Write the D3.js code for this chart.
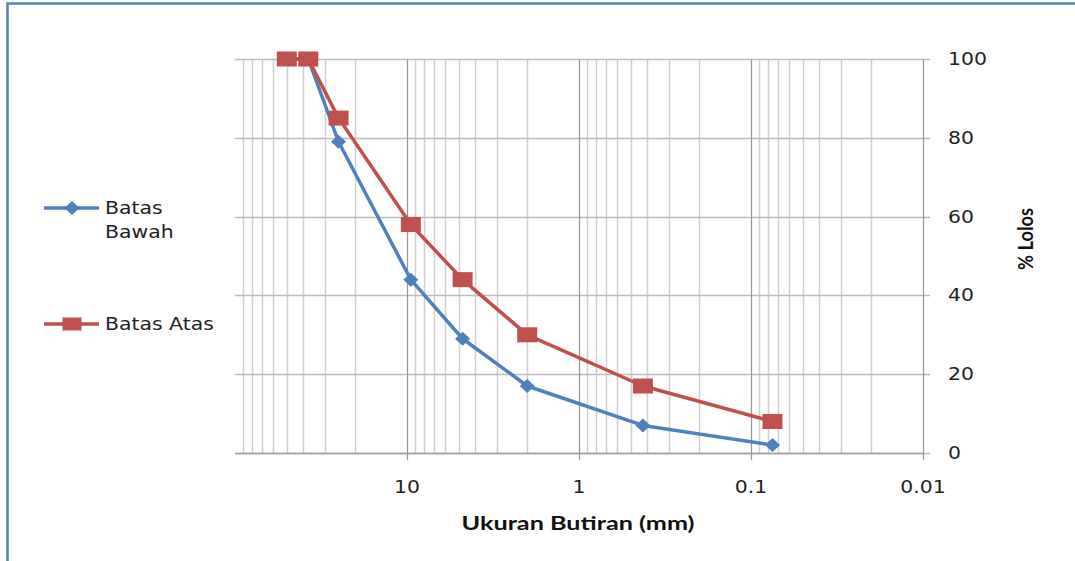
<!DOCTYPE html>
<html><head><meta charset="utf-8">
<script src="https://cdn.jsdelivr.net/npm/d3@7"></script>
<style>body{margin:0;background:#fff}svg{display:block}</style>
</head><body>
<svg id="c" width="1075" height="561"></svg>
<script>
const sizes = [50, 37.5, 25, 9.5, 4.75, 2.0, 0.425, 0.075];
const batasBawah = [100, 100, 79, 44, 29, 17, 7, 2];
const batasAtas = [100, 100, 85, 58, 44, 30, 17, 8];
const xTicks = [10, 1, 0.1, 0.01];
const xTickLabels = ["10", "1", "0.1", "0.01"];
const yTicks = [0, 20, 40, 60, 80, 100];
const seriesNames = ["Batas Bawah", "Batas Atas"];

const svg = d3.select("#c");
const x = d3.scaleLog().domain([100, 0.01]).range([235, 923]);
const y = d3.scaleLinear().domain([0, 100]).range([453, 59]);
const blue = "#4f81bd", red = "#c0504d";

// frame
svg.append("rect").attr("x", 7.5).attr("y", 3.5).attr("width", 1100).attr("height", 600)
  .attr("fill", "none").attr("stroke", "#4f81bd").attr("stroke-width", 2.5);

// minor vertical grid
const minor = [];
[10, 1, 0.1, 0.01].forEach(d => { for (let k = 2; k <= 9; k++) minor.push(k * d); });
svg.append("g").selectAll("line").data(minor).join("line")
  .attr("x1", d => Math.round(x(d)) + 0.5).attr("x2", d => Math.round(x(d)) + 0.5)
  .attr("y1", y(100)).attr("y2", y(0)).attr("stroke", "#cfcfcf").attr("stroke-width", 1.5);

// horizontal grid + right ticks
svg.append("g").selectAll("line").data(yTicks).join("line")
  .attr("x1", 235).attr("x2", 930)
  .attr("y1", d => Math.round(y(d)) + 0.5).attr("y2", d => Math.round(y(d)) + 0.5)
  .attr("stroke", "#bdbdbd").attr("stroke-width", 1.5);

// major vertical grid + ticks
svg.append("g").selectAll("line").data(xTicks).join("line")
  .attr("x1", d => Math.round(x(d)) + 0.5).attr("x2", d => Math.round(x(d)) + 0.5)
  .attr("y1", y(100)).attr("y2", y(0) + 7).attr("stroke", "#969696").attr("stroke-width", 1.2);

// bottom axis line
svg.append("line").attr("x1", 235).attr("x2", 923).attr("y1", Math.round(y(0)) + 0.5).attr("y2", Math.round(y(0)) + 0.5)
  .attr("stroke", "#a0a0a0").attr("stroke-width", 1.5);

const lbl = "'DejaVu Sans', Verdana, sans-serif";
// x tick labels
svg.append("g").selectAll("text").data(xTicks).join("text")
  .attr("transform", d => `translate(${x(d)},493) scale(1.2,1)`)
  .attr("text-anchor", "middle").attr("font-family", lbl).attr("font-size", 17).attr("fill", "#222")
  .text((d, i) => xTickLabels[i]);
// y tick labels
svg.append("g").selectAll("text").data(yTicks).join("text")
  .attr("transform", d => `translate(948,${y(d) + 6}) scale(1.2,1)`)
  .attr("font-family", lbl).attr("font-size", 17).attr("fill", "#222")
  .text(d => d);

// axis titles
svg.append("text").attr("x", 578).attr("y", 530).attr("text-anchor", "middle")
  .attr("font-family", "Lato, 'Open Sans', sans-serif").attr("font-weight", "bold").attr("font-size", 18)
  .attr("textLength", 233).attr("lengthAdjust", "spacingAndGlyphs").attr("fill", "#111")
  .text("Ukuran Butiran (mm)");
svg.append("text").attr("transform", "translate(1033,239) rotate(-90)").attr("text-anchor", "middle")
  .attr("font-family", "Lato, 'Open Sans', sans-serif").attr("font-weight", "bold").attr("font-size", 20)
  .attr("textLength", 62).attr("lengthAdjust", "spacingAndGlyphs").attr("fill", "#111")
  .text("% Lolos");

// series
const line = d3.line().x(d => x(d[0])).y(d => y(d[1]));
const dBawah = sizes.map((s, i) => [s, batasBawah[i]]);
const dAtas = sizes.map((s, i) => [s, batasAtas[i]]);

function diamond(g, cx, cy) {
  g.append("path").attr("d", `M${cx},${cy - 7}L${cx + 7.5},${cy}L${cx},${cy + 7}L${cx - 7.5},${cy}Z`).attr("fill", blue);
}
function square(g, cx, cy, w, h) {
  g.append("rect").attr("x", cx - w / 2).attr("y", cy - h / 2).attr("width", w).attr("height", h).attr("fill", red);
}

svg.append("path").datum(dBawah).attr("d", line).attr("fill", "none").attr("stroke", blue).attr("stroke-width", 3.5).attr("stroke-linejoin", "round");
const gB = svg.append("g");
dBawah.forEach(d => diamond(gB, x(d[0]), y(d[1])));

svg.append("path").datum(dAtas).attr("d", line).attr("fill", "none").attr("stroke", red).attr("stroke-width", 3.5).attr("stroke-linejoin", "round");
const gA = svg.append("g");
dAtas.forEach(d => square(gA, x(d[0]), y(d[1]), 20, 15));

// legend
const lg = svg.append("g");
lg.append("line").attr("x1", 44).attr("x2", 99).attr("y1", 208).attr("y2", 208).attr("stroke", blue).attr("stroke-width", 3.5);
diamond(lg, 72, 208);
lg.append("line").attr("x1", 44).attr("x2", 99).attr("y1", 324).attr("y2", 324).attr("stroke", red).attr("stroke-width", 3.5);
square(lg, 72, 324, 19, 13);
function legText(t, tx, ty) {
  lg.append("text").attr("transform", `translate(${tx},${ty}) scale(1.2,1)`)
    .attr("font-family", lbl).attr("font-size", 17).attr("fill", "#222").text(t);
}
legText("Batas", 105, 214);
legText("Bawah", 105, 238);
legText("Batas Atas", 105, 330);
</script>
</body></html>
